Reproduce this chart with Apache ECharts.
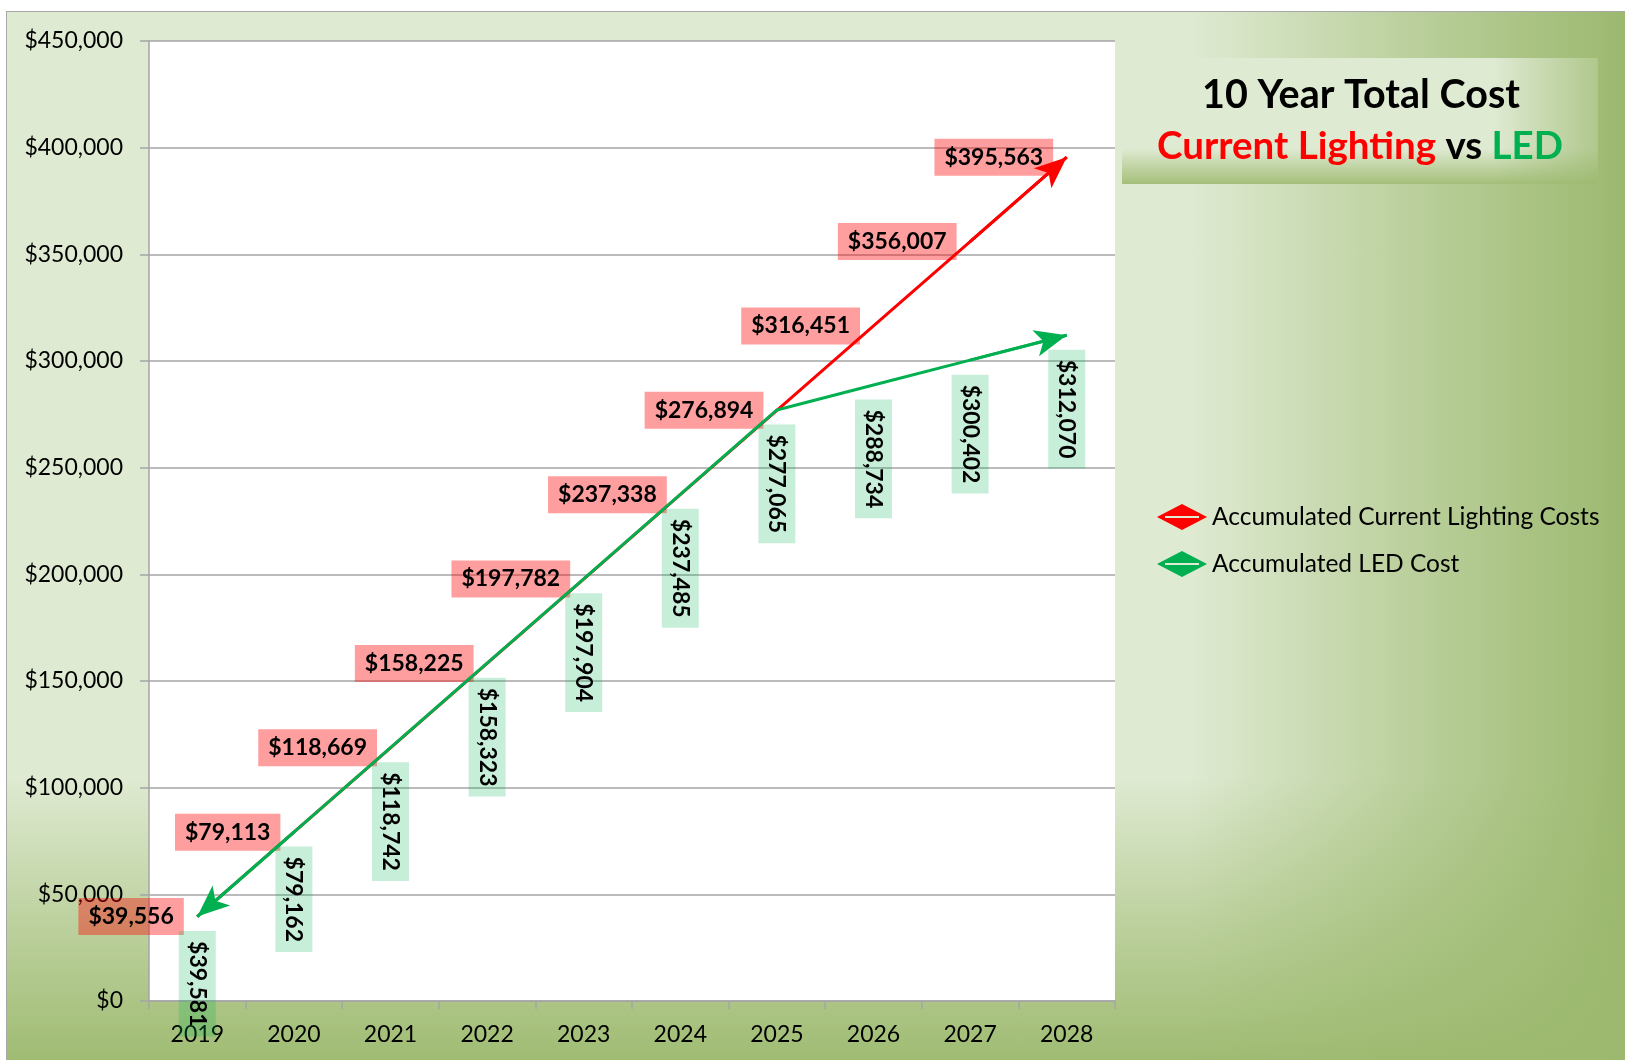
<!DOCTYPE html>
<html>
<head>
<meta charset="utf-8">
<script src="https://cdn.jsdelivr.net/npm/echarts@6/dist/echarts.min.js"></script>
<style>
  html, body { margin: 0; padding: 0; background: #ffffff; }
  #bg {
    position: absolute; left: 6px; top: 11px; width: 1619px; height: 1049px;
    box-sizing: border-box;
    border-left: 1.5px solid #a8a8a8; border-top: 1.5px solid #a8a8a8;
    background:
      linear-gradient(to right, rgba(156,185,111,0) 73%, rgba(156,185,111,0.55) 87%, rgba(156,185,111,1) 100%),
      linear-gradient(to bottom, rgba(160,188,115,0) 73%, rgba(160,188,115,0.55) 87%, rgba(160,188,115,1) 100%),
      #dfead2;
  }
  #chart { position: absolute; left: 0; top: 0; width: 1625px; height: 1060px; }
</style>
</head>
<body>
<div id="bg"></div>
<div id="chart"></div>
<script>
// ---- data ----
const years = ['2019', '2020', '2021', '2022', '2023', '2024', '2025', '2026', '2027', '2028'];
const currentCost = [39556, 79113, 118669, 158225, 197782, 237338, 276894, 316451, 356007, 395563];
const ledCost = [39581, 79162, 118742, 158323, 197904, 237485, 277065, 288734, 300402, 312070];
const yMin = 0;
const yMax = 450000;
const yStep = 50000;
const seriesNames = ['Accumulated Current Lighting Costs', 'Accumulated LED Cost'];

const RED = '#ff0000';
const GREEN = '#00b050';
const FONT = 'Lato, "Open Sans", "Noto Sans", sans-serif';
const money = v => '$' + Number(v).toLocaleString('en-US');

const chart = echarts.init(document.getElementById('chart'), null, { renderer: 'canvas' });

const arrowCommon = {
  silent: true,
  symbol: ['none', 'arrow'],
  symbolSize: [20, 32],
  symbolOffset: [0, 0],
  label: { show: false },
  emphasis: { disabled: true },
  animation: false
};

const option = {
  animation: false,
  backgroundColor: 'transparent',
  grid: {
    left: 149, top: 41, right: 510, bottom: 59,
    show: true, backgroundColor: '#ffffff', borderWidth: 0,
    containLabel: false, outerBoundsMode: 'none'
  },
  graphic: [
    {
      type: 'rect', z: 0, silent: true,
      shape: { x: 1122, y: 58, width: 476, height: 126 },
      style: {
        fill: new echarts.graphic.LinearGradient(0, 0, 0, 1, [
          { offset: 0, color: '#dfead2' },
          { offset: 0.72, color: '#dfead2' },
          { offset: 1, color: '#a4bf79' }
        ])
      }
    },
    {
      type: 'rect', z: 0, silent: true,
      shape: { x: 1122, y: 58, width: 476, height: 126 },
      style: {
        fill: new echarts.graphic.LinearGradient(0, 0, 1, 0, [
          { offset: 0, color: 'rgba(156,185,111,0)' },
          { offset: 0.78, color: 'rgba(156,185,111,0)' },
          { offset: 1, color: 'rgba(156,185,111,0.7)' }
        ])
      }
    },
    {
      type: 'text', z: 1, silent: true,
      style: {
        x: 1361, y: 95, text: '10 Year Total Cost',
        align: 'center', verticalAlign: 'middle',
        font: 'bold 39.5px ' + FONT, fill: '#000000'
      }
    },
    {
      type: 'text', z: 1, silent: true,
      style: {
        x: 1360, y: 147, text: '{r|Current Lighting} {k|vs} {g|LED}',
        align: 'center', verticalAlign: 'middle',
        font: 'bold 38.5px ' + FONT, fill: '#000000',
        rich: {
          r: { fill: RED, font: 'bold 38.5px ' + FONT },
          k: { fill: '#000000', font: 'bold 38.5px ' + FONT },
          g: { fill: GREEN, font: 'bold 38.5px ' + FONT }
        }
      }
    }
  ],
  legend: {
    orient: 'vertical',
    left: 1152, top: 499,
    itemWidth: 50, itemHeight: 26, itemGap: 21,
    icon: 'path://M0,13L25,0L50,13L42,13L42,12L8,12L8,13ZM0,13L8,13L8,14L42,14L42,13L50,13L25,26Z',
    selectedMode: false,
    textStyle: { fontFamily: FONT, fontSize: 24.5, color: '#000000', lineHeight: 26 },
    data: seriesNames
  },
  xAxis: {
    type: 'category',
    data: years,
    boundaryGap: true,
    axisLine: { show: true, lineStyle: { color: '#a5a5a5', width: 1.5 } },
    axisTick: { show: true, length: 8, lineStyle: { color: '#a5a5a5', width: 1.5 } },
    axisLabel: { fontFamily: FONT, fontSize: 23, color: '#000000', margin: 22 },
    splitLine: { show: false }
  },
  yAxis: {
    type: 'value',
    min: yMin, max: yMax, interval: yStep,
    axisLine: { show: true, lineStyle: { color: '#a5a5a5', width: 1.5 } },
    axisTick: { show: true, length: 9, lineStyle: { color: '#a5a5a5', width: 1.5 } },
    axisLabel: { fontFamily: FONT, fontSize: 23, color: '#000000', margin: 26, formatter: money },
    splitLine: { show: true, lineStyle: { color: '#a5a5a5', width: 1.5 } }
  },
  series: [
    {
      name: seriesNames[0],
      type: 'line',
      data: currentCost,
      symbol: 'circle', symbolSize: 1, showSymbol: true,
      itemStyle: { color: RED },
      lineStyle: { color: RED, width: 3 },
      emphasis: { disabled: true },
      z: 2,
      label: {
        show: true, position: 'left', distance: 13,
        formatter: p => money(p.value),
        fontFamily: FONT, fontSize: 23, fontWeight: 'bold', color: '#000000',
        backgroundColor: 'rgba(255,0,0,0.38)', padding: [7, 10]
      },
      markLine: Object.assign({}, arrowCommon, {
        lineStyle: { color: RED, width: 3, type: 'solid' },
        data: [
          [{ coord: [years[8], currentCost[8]] }, { coord: [years[9], currentCost[9]] }]
        ]
      })
    },
    {
      name: seriesNames[1],
      type: 'line',
      data: ledCost,
      symbol: 'circle', symbolSize: 1, showSymbol: true,
      itemStyle: { color: GREEN },
      lineStyle: { color: GREEN, width: 3 },
      emphasis: { disabled: true },
      z: 3,
      label: {
        show: true, position: 'bottom', distance: 14,
        rotate: -90, align: 'left', verticalAlign: 'middle',
        formatter: p => money(p.value),
        fontFamily: FONT, fontSize: 23, fontWeight: 'bold', color: '#000000',
        backgroundColor: 'rgba(0,176,80,0.22)', padding: [7, 10]
      },
      markLine: Object.assign({}, arrowCommon, {
        lineStyle: { color: GREEN, width: 3, type: 'solid' },
        data: [
          [{ coord: [years[1], ledCost[1]] }, { coord: [years[0], ledCost[0]] }],
          [{ coord: [years[8], ledCost[8]] }, { coord: [years[9], ledCost[9]] }]
        ]
      })
    }
  ]
};

chart.setOption(option);
</script>
</body>
</html>
